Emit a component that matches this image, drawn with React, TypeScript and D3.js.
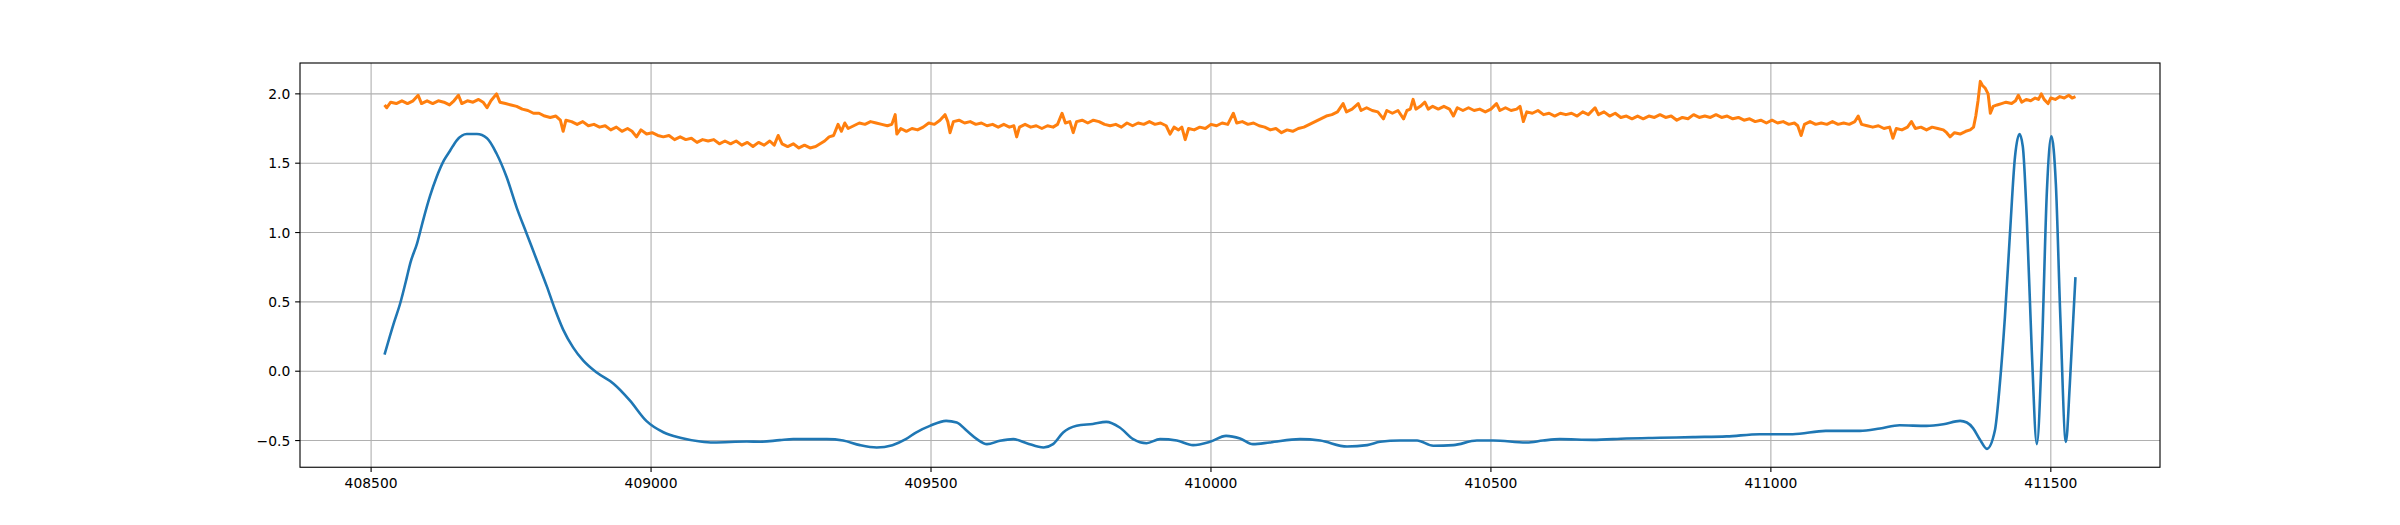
import React from 'react';
import * as d3 from 'd3';

const xTicks: number[] = [408500, 409000, 409500, 410000, 410500, 411000, 411500];
const yTicks: number[] = [-0.5, 0.0, 0.5, 1.0, 1.5, 2.0];

const blueSeries: [number, number][] = [
  [408524, 0.12], [408540, 0.34], [408552, 0.49], [408564, 0.68], [408570, 0.78], [408582, 0.92],
  [408593, 1.09], [408605, 1.26], [408617, 1.40], [408630, 1.52], [408641, 1.59], [408653, 1.665],
  [408671, 1.71], [408689, 1.71], [408707, 1.68], [408724, 1.57], [408742, 1.40], [408760, 1.18],
  [408778, 0.99], [408796, 0.80], [408814, 0.61], [408828, 0.45], [408843, 0.30], [408861, 0.17],
  [408879, 0.076], [408903, -0.01], [408933, -0.09], [408962, -0.21], [408992, -0.36], [409022, -0.44],
  [409052, -0.48], [409088, -0.507], [409111, -0.514], [409171, -0.507], [409195, -0.509], [409230, -0.497],
  [409254, -0.49], [409314, -0.49], [409343, -0.50], [409373, -0.533], [409403, -0.55], [409431, -0.533],
  [409455, -0.49], [409473, -0.442], [409498, -0.394], [409527, -0.358], [409546, -0.37], [409564, -0.43],
  [409582, -0.49], [409600, -0.526], [409623, -0.502], [409647, -0.49], [409671, -0.519], [409701, -0.55],
  [409718, -0.526], [409736, -0.442], [409760, -0.394], [409789, -0.38], [409813, -0.365], [409837, -0.406],
  [409861, -0.49], [409885, -0.519], [409909, -0.49], [409939, -0.50], [409968, -0.533], [409998, -0.509],
  [410027, -0.466], [410052, -0.485], [410075, -0.526], [410105, -0.514], [410159, -0.49], [410195, -0.50],
  [410243, -0.543], [410279, -0.533], [410302, -0.509], [410338, -0.50], [410368, -0.50], [410397, -0.538],
  [410433, -0.533], [410475, -0.50], [410504, -0.50], [410564, -0.514], [410593, -0.50], [410623, -0.49],
  [410682, -0.495], [410742, -0.485], [410802, -0.48], [410861, -0.475], [410921, -0.47], [410980, -0.454],
  [411039, -0.454], [411098, -0.43], [411159, -0.43], [411195, -0.413], [411230, -0.39], [411278, -0.394],
  [411308, -0.382], [411338, -0.358], [411350, -0.37], [411361, -0.41], [411373, -0.49], [411386, -0.56],
  [411400, -0.43], [411409, -0.09], [411418, 0.39], [411427, 0.99], [411436, 1.545], [411444, 1.71],
  [411450, 1.62], [411457, 1.11], [411466, 0.148], [411475, -0.526], [411484, 0.148], [411493, 1.30],
  [411501, 1.694], [411509, 1.35], [411517, 0.39], [411527, -0.51], [411534, -0.09], [411544, 0.678],
];

const orangeSeries: [number, number][] = [
  [408524, 1.92], [408528, 1.90], [408535, 1.94], [408545, 1.93], [408555, 1.95], [408565, 1.93],
  [408575, 1.95], [408584, 1.99], [408590, 1.93], [408600, 1.95], [408610, 1.93], [408620, 1.95],
  [408630, 1.94], [408640, 1.92], [408648, 1.95], [408656, 1.99], [408662, 1.93], [408672, 1.95],
  [408682, 1.94], [408692, 1.96], [408700, 1.94], [408707, 1.90], [408714, 1.95], [408724, 2.00],
  [408730, 1.94], [408740, 1.93], [408750, 1.92], [408760, 1.91], [408770, 1.89], [408780, 1.88],
  [408790, 1.86], [408800, 1.86], [408810, 1.84], [408820, 1.83], [408830, 1.84], [408838, 1.81],
  [408843, 1.73], [408848, 1.81], [408858, 1.80], [408868, 1.78], [408878, 1.80], [408888, 1.77],
  [408898, 1.78], [408908, 1.76], [408918, 1.77], [408928, 1.74], [408938, 1.76], [408948, 1.73],
  [408958, 1.75], [408966, 1.73], [408974, 1.69], [408982, 1.74], [408992, 1.71], [409002, 1.72],
  [409012, 1.70], [409022, 1.69], [409032, 1.70], [409042, 1.67], [409052, 1.69], [409062, 1.67],
  [409072, 1.68], [409082, 1.65], [409092, 1.67], [409102, 1.66], [409112, 1.67], [409122, 1.64],
  [409132, 1.66], [409142, 1.64], [409152, 1.66], [409162, 1.63], [409172, 1.65], [409182, 1.62],
  [409192, 1.65], [409202, 1.63], [409212, 1.66], [409220, 1.63], [409227, 1.70], [409234, 1.64],
  [409244, 1.62], [409254, 1.64], [409264, 1.61], [409274, 1.63], [409284, 1.61], [409294, 1.62],
  [409302, 1.64], [409310, 1.66], [409318, 1.69], [409326, 1.70], [409334, 1.78], [409340, 1.73],
  [409346, 1.79], [409352, 1.75], [409362, 1.77], [409372, 1.79], [409382, 1.78], [409392, 1.80],
  [409402, 1.79], [409412, 1.78], [409422, 1.77], [409430, 1.78], [409436, 1.85], [409439, 1.71],
  [409446, 1.75], [409456, 1.73], [409466, 1.75], [409476, 1.74], [409486, 1.76], [409496, 1.79],
  [409506, 1.78], [409516, 1.81], [409525, 1.85], [409530, 1.80], [409534, 1.72], [409540, 1.80],
  [409550, 1.81], [409560, 1.79], [409570, 1.80], [409580, 1.78], [409590, 1.79], [409600, 1.77],
  [409610, 1.78], [409620, 1.76], [409630, 1.78], [409640, 1.76], [409648, 1.77], [409653, 1.69],
  [409658, 1.76], [409668, 1.78], [409678, 1.76], [409688, 1.77], [409698, 1.75], [409708, 1.77],
  [409718, 1.76], [409726, 1.78], [409734, 1.86], [409740, 1.79], [409748, 1.80], [409754, 1.72],
  [409760, 1.80], [409770, 1.81], [409780, 1.79], [409790, 1.81], [409800, 1.80], [409810, 1.78],
  [409820, 1.77], [409830, 1.78], [409840, 1.76], [409850, 1.79], [409860, 1.77], [409870, 1.79],
  [409880, 1.78], [409890, 1.80], [409900, 1.78], [409910, 1.79], [409920, 1.77], [409927, 1.71],
  [409934, 1.76], [409942, 1.74], [409948, 1.76], [409954, 1.67], [409960, 1.75], [409970, 1.74],
  [409980, 1.76], [409990, 1.75], [410000, 1.78], [410010, 1.77], [410020, 1.79], [410030, 1.78],
  [410040, 1.86], [410046, 1.79], [410056, 1.80], [410066, 1.78], [410076, 1.79], [410086, 1.77],
  [410096, 1.76], [410106, 1.74], [410116, 1.75], [410126, 1.72], [410136, 1.74], [410146, 1.73],
  [410156, 1.75], [410166, 1.76], [410176, 1.78], [410186, 1.80], [410196, 1.82], [410206, 1.84],
  [410216, 1.85], [410226, 1.87], [410236, 1.93], [410242, 1.87], [410252, 1.89], [410263, 1.93],
  [410268, 1.88], [410278, 1.90], [410288, 1.88], [410298, 1.87], [410308, 1.82], [410314, 1.88],
  [410324, 1.86], [410334, 1.88], [410344, 1.82], [410350, 1.88], [410356, 1.89], [410361, 1.96],
  [410366, 1.89], [410374, 1.91], [410382, 1.94], [410388, 1.89], [410396, 1.91], [410406, 1.89],
  [410416, 1.91], [410426, 1.89], [410433, 1.84], [410440, 1.90], [410450, 1.88], [410460, 1.90],
  [410470, 1.88], [410480, 1.89], [410490, 1.87], [410500, 1.89], [410510, 1.93], [410516, 1.88],
  [410526, 1.90], [410536, 1.88], [410546, 1.89], [410552, 1.91], [410558, 1.80], [410564, 1.87],
  [410574, 1.86], [410584, 1.88], [410594, 1.85], [410604, 1.86], [410614, 1.84], [410624, 1.86],
  [410634, 1.85], [410644, 1.86], [410654, 1.84], [410664, 1.87], [410674, 1.85], [410686, 1.90],
  [410692, 1.85], [410702, 1.87], [410712, 1.84], [410722, 1.86], [410732, 1.83], [410742, 1.84],
  [410752, 1.82], [410762, 1.84], [410772, 1.82], [410782, 1.84], [410792, 1.83], [410802, 1.85],
  [410812, 1.83], [410822, 1.84], [410832, 1.81], [410842, 1.83], [410852, 1.82], [410862, 1.85],
  [410872, 1.83], [410882, 1.84], [410892, 1.83], [410902, 1.85], [410912, 1.83], [410922, 1.84],
  [410932, 1.82], [410942, 1.83], [410952, 1.81], [410962, 1.82], [410972, 1.80], [410982, 1.81],
  [410992, 1.79], [411002, 1.81], [411012, 1.79], [411022, 1.80], [411032, 1.78], [411042, 1.79],
  [411048, 1.77], [411054, 1.70], [411060, 1.78], [411070, 1.80], [411080, 1.78], [411090, 1.79],
  [411100, 1.78], [411110, 1.80], [411120, 1.78], [411130, 1.79], [411140, 1.78], [411150, 1.80],
  [411156, 1.84], [411162, 1.78], [411172, 1.77], [411182, 1.76], [411192, 1.77], [411202, 1.75],
  [411212, 1.76], [411218, 1.68], [411224, 1.75], [411234, 1.74], [411244, 1.76], [411251, 1.80],
  [411258, 1.75], [411268, 1.76], [411278, 1.74], [411288, 1.76], [411298, 1.75], [411308, 1.74],
  [411314, 1.72], [411320, 1.69], [411328, 1.72], [411338, 1.71], [411348, 1.73], [411356, 1.74],
  [411362, 1.76], [411366, 1.84], [411370, 1.95], [411374, 2.09], [411378, 2.06], [411383, 2.04],
  [411388, 2.00], [411392, 1.86], [411397, 1.91], [411404, 1.92], [411412, 1.93], [411420, 1.94],
  [411430, 1.93], [411437, 1.95], [411442, 1.99], [411448, 1.94], [411456, 1.96], [411464, 1.95],
  [411472, 1.97], [411478, 1.96], [411483, 2.00], [411488, 1.96], [411495, 1.93], [411500, 1.97],
  [411508, 1.96], [411516, 1.98], [411524, 1.97], [411532, 1.99], [411538, 1.97], [411544, 1.98],
];

const WIDTH = 2400;
const HEIGHT = 525;
const LEFT = 300;
const RIGHT = 2160;
const TOP = 63;
const BOTTOM = 467.25;
const FONT = '"DejaVu Sans", sans-serif';
const FONT_SIZE = 13.89;
const TICK = 4.86;
const PAD = 4.86;

function padded(ext: [number, number]): [number, number] {
  const span = ext[1] - ext[0];
  return [ext[0] - span * 0.05, ext[1] + span * 0.05];
}

export default function App() {
  const allX = [...blueSeries, ...orangeSeries].map((d) => d[0]);
  const allY = [...blueSeries, ...orangeSeries].map((d) => d[1]);
  const x = d3.scaleLinear().domain(padded(d3.extent(allX) as [number, number])).range([LEFT, RIGHT]);
  const y = d3.scaleLinear().domain(padded(d3.extent(allY) as [number, number])).range([BOTTOM, TOP]);

  const blueLine = d3
    .line<[number, number]>()
    .x((d) => x(d[0]))
    .y((d) => y(d[1]))
    .curve(d3.curveMonotoneX);
  const orangeLine = d3
    .line<[number, number]>()
    .x((d) => x(d[0]))
    .y((d) => y(d[1]));

  const yFmt = d3.format('.1f');

  return (
    <svg
      width={WIDTH}
      height={HEIGHT}
      style={{ position: 'absolute', left: 0, top: 0, background: '#ffffff' }}
      fontFamily={FONT}
    >
      <rect x={0} y={0} width={WIDTH} height={HEIGHT} fill="#ffffff" />
      <defs>
        <clipPath id="plotClip">
          <rect x={LEFT} y={TOP} width={RIGHT - LEFT} height={BOTTOM - TOP} />
        </clipPath>
      </defs>
      <g stroke="#b0b0b0" strokeWidth={1.11}>
        {xTicks.map((t) => (
          <line key={'gx' + t} x1={x(t)} x2={x(t)} y1={TOP} y2={BOTTOM} />
        ))}
        {yTicks.map((t) => (
          <line key={'gy' + t} x1={LEFT} x2={RIGHT} y1={y(t)} y2={y(t)} />
        ))}
      </g>
      <g clipPath="url(#plotClip)" fill="none" strokeLinejoin="round" strokeLinecap="butt">
        <path d={blueLine(blueSeries) || ''} stroke="#1f77b4" strokeWidth={2.6} />
        <path d={orangeLine(orangeSeries) || ''} stroke="#ff7f0e" strokeWidth={3.0} />
      </g>
      <rect
        x={LEFT}
        y={TOP}
        width={RIGHT - LEFT}
        height={BOTTOM - TOP}
        fill="none"
        stroke="#000000"
        strokeWidth={1.11}
      />
      <g>
        {xTicks.map((t) => (
          <g key={'xt' + t}>
            <line x1={x(t)} x2={x(t)} y1={BOTTOM} y2={BOTTOM + TICK} stroke="#000" strokeWidth={1.11} />
            <text
              x={x(t)}
              y={BOTTOM + TICK + PAD + 10.56}
              textAnchor="middle"
              fontSize={FONT_SIZE}
              fill="#000"
            >
              {String(t)}
            </text>
          </g>
        ))}
      </g>
      <g>
        {yTicks.map((t) => (
          <g key={'yt' + t}>
            <line x1={LEFT - TICK} x2={LEFT} y1={y(t)} y2={y(t)} stroke="#000" strokeWidth={1.11} />
            <text
              x={LEFT - TICK - PAD}
              y={y(t) + 5.1}
              textAnchor="end"
              fontSize={FONT_SIZE}
              fill="#000"
            >
              {yFmt(t)}
            </text>
          </g>
        ))}
      </g>
    </svg>
  );
}
